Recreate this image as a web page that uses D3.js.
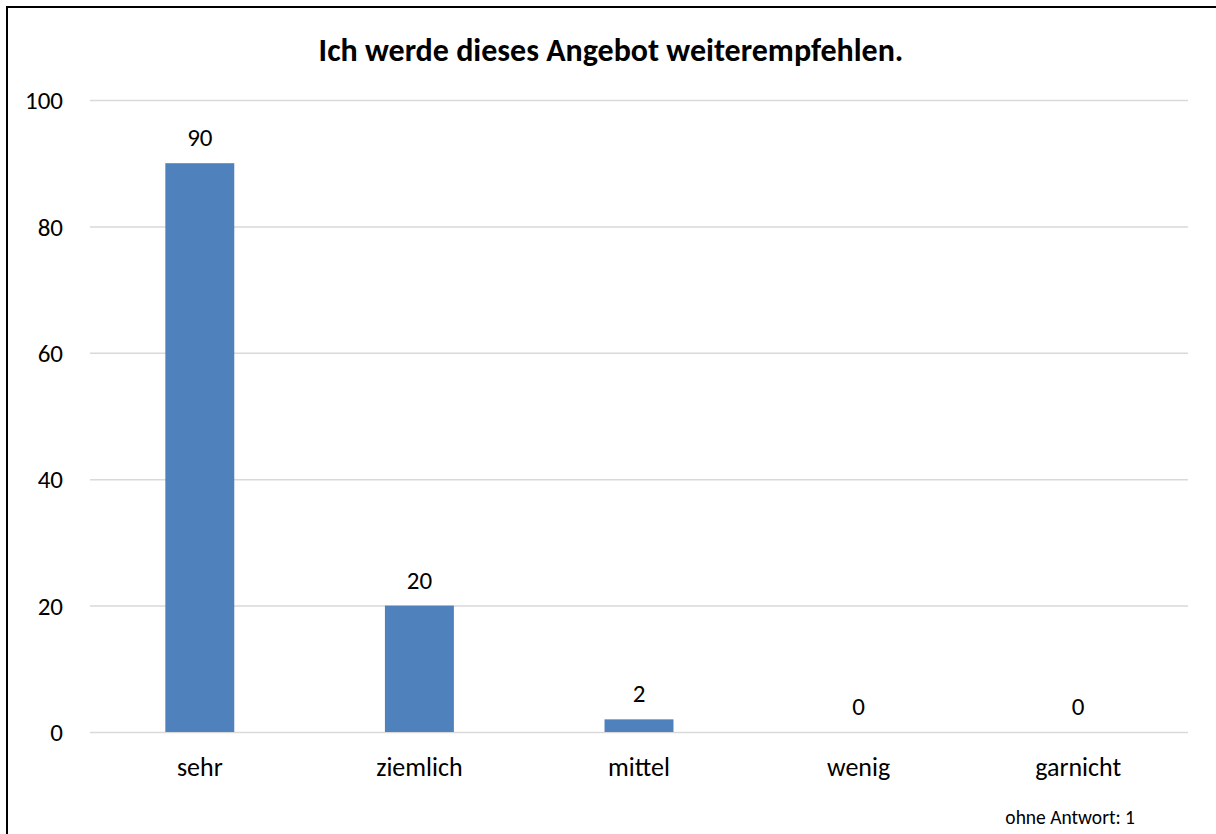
<!DOCTYPE html>
<html><head><meta charset="utf-8">
<script src="https://cdn.jsdelivr.net/npm/d3@7/dist/d3.min.js"></script>
<style>body{margin:0;background:#fff}svg{display:block}text{font-family:Carlito,Calibri,Lato,"Liberation Sans",sans-serif;fill:#000}</style>
</head><body><svg id="c" width="1216" height="834"></svg>
<script>
const categories = ["sehr","ziemlich","mittel","wenig","garnicht"];
const values = [90,20,2,0,0];
const yTicks = [0,20,40,60,80,100];
const title = "Ich werde dieses Angebot weiterempfehlen.";
const note = "ohne Antwort: 1";

const svg = d3.select("#c");
svg.append("rect").attr("x",7).attr("y",7).attr("width",1230).attr("height",850)
  .attr("fill","none").attr("stroke","#000").attr("stroke-width",2);

const x = d3.scaleBand().domain(categories).range([90,1188]).paddingInner(0.686).paddingOuter(0.343);
const y = d3.scaleLinear().domain([0,100]).range([732,100]);

svg.append("text").attr("x",611).attr("y",61).attr("text-anchor","middle")
  .style("font-size","32px").style("font-weight","bold").text(title);

const yAxis = svg.append("g").attr("transform","translate(90,0)")
  .call(d3.axisLeft(y).tickValues(yTicks).tickSize(-1098).tickPadding(27));
yAxis.select(".domain").remove();
yAxis.selectAll("line").attr("stroke","#d9d9d9").attr("stroke-width",1.5);
yAxis.selectAll("text").style("font-size","25px").attr("dy","0.35em");

svg.selectAll("rect.bar").data(values).join("rect").attr("class","bar")
  .attr("x",(d,i)=>x(categories[i])).attr("width",x.bandwidth())
  .attr("y",d=>y(d)).attr("height",d=>y(0)-y(d)).attr("fill","#4f81bd");

svg.selectAll("text.lbl").data(values).join("text").attr("class","lbl")
  .attr("x",(d,i)=>x(categories[i])+x.bandwidth()/2).attr("y",d=>y(d)-17)
  .attr("text-anchor","middle").style("font-size","25px").text(d=>d);

const xAxis = svg.append("g").attr("transform","translate(0,732)")
  .call(d3.axisBottom(x).tickSize(0).tickPadding(26));
xAxis.select(".domain").remove();
xAxis.selectAll("text").style("font-size","26px");

svg.append("text").attr("x",1135).attr("y",824).attr("text-anchor","end")
  .style("font-size","19.5px").text(note);
</script></body></html>
